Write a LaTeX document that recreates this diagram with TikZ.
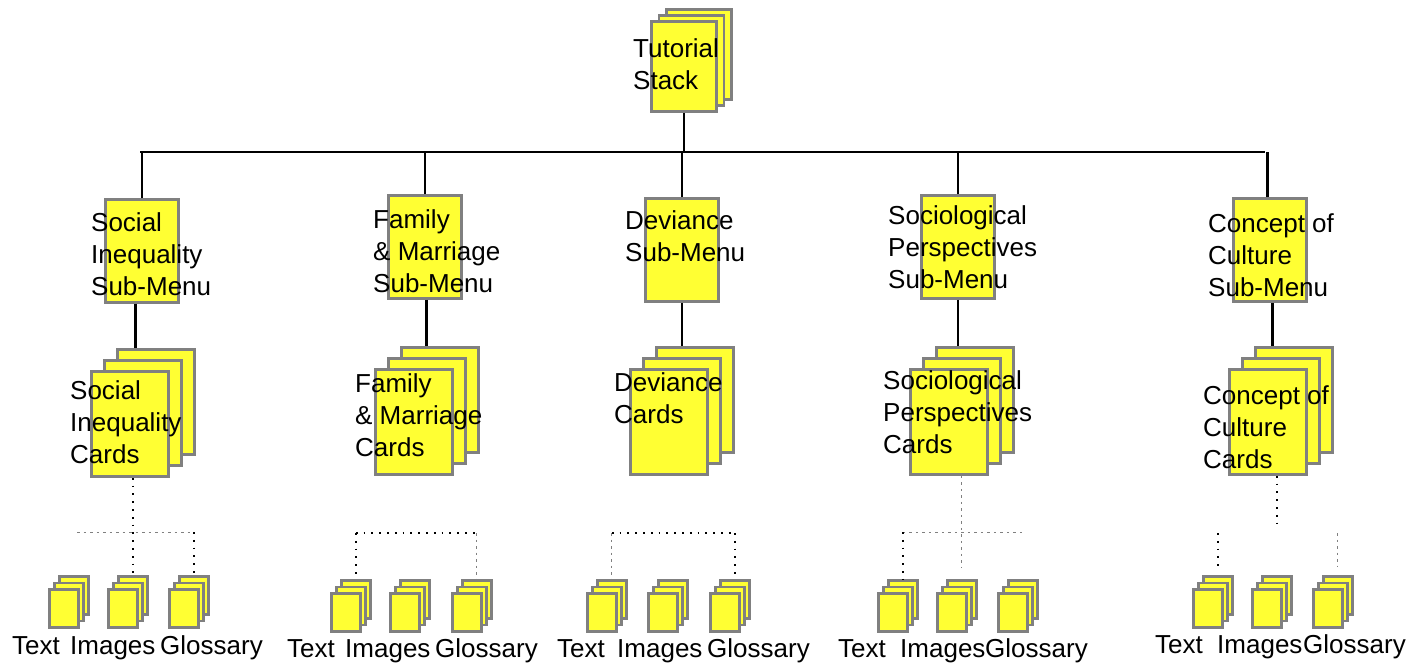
\documentclass[tikz,border=0pt]{standalone}
\usepackage{fontspec}
\setmainfont{Liberation Sans}
\definecolor{cardfill}{RGB}{255,255,51}
\definecolor{cardedge}{RGB}{128,128,128}
\tikzset{
 card/.style={draw=cardedge, fill=cardfill, line width=2.8pt, anchor=north west, inner sep=0pt},
 bigcard/.style={card, minimum width=77pt, minimum height=105pt},
 subcard/.style={card, minimum width=73pt, minimum height=103pt},
 topcard/.style={card, minimum width=65pt, minimum height=90pt},
 smallcard/.style={card, line width=2.6pt, minimum width=29pt, minimum height=38pt},
 lbl/.style={anchor=north west, inner sep=0pt, align=left, font=\fontsize{26}{32}\selectfont},
 slbl/.style={anchor=base west, inner sep=0pt, font=\fontsize{26}{32}\selectfont},
 link/.style={line width=2.3pt, black},
 dotk/.style={line width=1.8pt, black, dash pattern=on 1.8pt off 6pt},
 dotg/.style={line width=0.8pt, gray, dash pattern=on 2.5pt off 4pt},
}
\newcommand\bigstack[3]{%
 \node[bigcard] (#1c) at (#2+26,#3-22) {};
 \node[bigcard] (#1b) at (#2+13,#3-11) {};
 \node[bigcard] (#1) at (#2,#3) {};}
\newcommand\smallstack[3]{%
 \node[smallcard] (#1c) at (#2+10,#3-13) {};
 \node[smallcard] (#1b) at (#2+5,#3-6.5) {};
 \node[smallcard] (#1) at (#2,#3) {};}
\begin{document}
\begin{tikzpicture}[x=1pt,y=-1pt]
\useasboundingbox (0,0) rectangle (1426,666);
% top stack
\node[topcard] (tutc) at (665,8) {};
\node[topcard] (tutb) at (657.5,14) {};
\node[topcard] (tut) at (650,20) {};
\node[lbl] (ltut) at (633,38) {Tutorial\\Stack};
% bus
\coordinate (busL) at (140,152);
\coordinate (busR) at (1265,152);
\draw[link] (busL) -- (busR);
\draw[link] (tut.south) -- (tut.south |- busL);
% sub-menus
\node[subcard] (sm1) at (104,198) {};
\node[subcard] (sm2) at (387,194) {};
\node[subcard] (sm3) at (644,197) {};
\node[subcard] (sm4) at (920,194) {};
\node[subcard] (sm5) at (1232,197) {};
\node[lbl] (lsm1) at (91,212.5) {Social\\Inequality\\Sub-Menu};
\node[lbl] (lsm2) at (373,209.5) {Family\\\& Marriage\\Sub-Menu};
\node[lbl] (lsm3) at (625,210.5) {Deviance\\Sub-Menu};
\node[lbl] (lsm4) at (888,205.5) {Sociological\\Perspectives\\Sub-Menu};
\node[lbl] (lsm5) at (1208,213.5) {Concept of\\Culture\\Sub-Menu};
\draw[link] (sm1.north) -- (sm1.north |- busL);
\draw[link] (sm2.north) -- (sm2.north |- busL);
\draw[link] (sm3.north) -- (sm3.north |- busL);
\draw[link] (sm4.north) -- (sm4.north |- busL);
\draw[link] ([xshift=-2.5pt]sm5.north) -- ([xshift=-2.5pt]sm5.north |- busR);
% card stacks
\bigstack{st1}{90}{370}
\bigstack{st2}{374}{368}
\bigstack{st3}{629}{368}
\bigstack{st4}{909}{368}
\bigstack{st5}{1228}{368}
\draw[link] ([xshift=-6.5pt]sm1.south) -- ([xshift=-6.5pt]sm1.south |- st1c.north);
\draw[link] ([xshift=1.5pt]sm2.south) -- ([xshift=1.5pt]sm2.south |- st2c.north);
\draw[link] (sm3.south) -- (sm3.south |- st3c.north);
\draw[link] (sm4.south) -- (sm4.south |- st4c.north);
\draw[link] ([xshift=2.5pt]sm5.south) -- ([xshift=2.5pt]sm5.south |- st5c.north);
\node[lbl] (lst1) at (70,380.5) {Social\\Inequality\\Cards};
\node[lbl] (lst2) at (355,373.5) {Family\\\& Marriage\\Cards};
\node[lbl] (lst3) at (614,372.5) {Deviance\\Cards};
\node[lbl] (lst4) at (883,370.5) {Sociological\\Perspectives\\Cards};
\node[lbl] (lst5) at (1203,385.5) {Concept of\\Culture\\Cards};
% small stacks
\smallstack{t1}{48}{588}\smallstack{i1}{107}{588}\smallstack{g1}{168}{588}
\smallstack{t2}{330}{592}\smallstack{i2}{389}{592}\smallstack{g2}{451}{592}
\smallstack{t3}{586}{592}\smallstack{i3}{647}{592}\smallstack{g3}{709}{592}
\smallstack{t4}{877}{592}\smallstack{i4}{936}{592}\smallstack{g4}{997}{592}
\smallstack{t5}{1192}{588}\smallstack{i5}{1251}{588}\smallstack{g5}{1312}{588}
% small labels
\node[slbl] (lt1) at (12,654) {Text};
\node[slbl] (li1) at (70,654) {Images};
\node[slbl] (lg1) at (160,654) {Glossary};
\node[slbl] (lt2) at (287,657) {Text};
\node[slbl] (li2) at (345,657) {Images};
\node[slbl] (lg2) at (435,657) {Glossary};
\node[slbl] (lt3) at (557,657) {Text};
\node[slbl] (li3) at (617,657) {Images};
\node[slbl] (lg3) at (707,657) {Glossary};
\node[slbl] (lt4) at (838,657) {Text};
\node[slbl] (li4) at (900,657) {Images};
\node[slbl] (lg4) at (985,657) {Glossary};
\node[slbl] (lt5) at (1155,653) {Text};
\node[slbl] (li5) at (1217,653) {Images};
\node[slbl] (lg5) at (1303,653) {Glossary};
% dotted connectors group 1
\coordinate (h1) at (77,532);
\draw[dotk] (st1.south -| i1c.north) -- (i1c.north);
\draw[dotg] (h1) -- (h1 -| g1c.north);
\draw[dotk] (h1 -| g1c.north) -- (g1c.north);
% group 2
\coordinate (h2) at (0,533);
\draw[dotk] (h2 -| t2c.north) -- (h2 -| g2c.north);
\draw[dotk] (h2 -| t2c.north) -- (t2c.north);
\draw[dotg] (h2 -| g2c.north) -- (g2c.north);
% group 3
\coordinate (h3) at (0,533);
\draw[dotk] (h3 -| t3c.north) -- (h3 -| g3c.north);
\draw[dotg] (h3 -| t3c.north) -- (t3c.north);
\draw[dotk] (h3 -| g3c.north) -- (g3c.north);
% group 4
\coordinate (h4) at (0,532);
\draw[dotg] (st4.south -| i4c.north) -- ([yshift=12pt]i4c.north);
\draw[dotg] (h4 -| t4c.north) -- (h4 -| g4c.north);
\draw[dotk] (h4 -| t4c.north) -- (t4c.north);
% group 5
\coordinate (e5) at (1277,525);
\coordinate (h5) at (0,533);
\draw[dotk] (st5.south -| e5) -- (e5);
\draw[dotk] (h5 -| t5c.north) -- ([yshift=8pt]t5c.north);
\draw[dotg] (h5 -| g5c.north) -- ([yshift=8pt]g5c.north);
\end{tikzpicture}
\end{document}
